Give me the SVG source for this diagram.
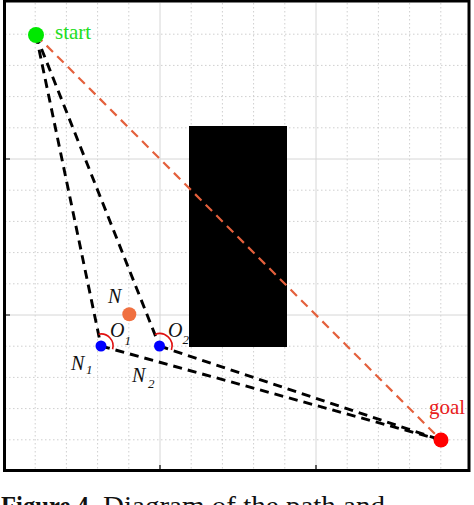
<svg xmlns="http://www.w3.org/2000/svg" width="474" height="505" viewBox="0 0 474 505">
<style>
.minor{stroke:#cfcfcf;stroke-width:1;stroke-dasharray:1.5,2.5;fill:none}
.major{stroke:#d6d6d6;stroke-width:1;fill:none}
.path{stroke:#000;stroke-width:2.9;stroke-dasharray:9,6;fill:none}
.direct{stroke:#e4603c;stroke-width:2.2;stroke-dasharray:9,6;fill:none}
.arc{stroke:#e01010;stroke-width:1.6;fill:none}
.lbl{font-family:"Liberation Serif",serif;font-style:italic;font-size:20px;fill:#111}
.sub{font-family:"Liberation Serif",serif;font-style:italic;font-size:13px;fill:#111}
.word{font-family:"Liberation Serif",serif;font-size:21px}
</style>
<rect width="474" height="505" fill="#fff"/>
<g id="grid">
<path class="minor" d="M35.2 3V470M66.4 3V470M97.6 3V470M128.8 3V470M191.2 3V470M222.4 3V470M253.6 3V470M284.8 3V470M347.2 3V470M378.4 3V470M409.6 3V470M440.8 3V470"/>
<path class="minor" d="M5 34.2H468M5 65.4H468M5 96.6H468M5 127.8H468M5 190.2H468M5 221.4H468M5 252.6H468M5 283.8H468M5 346.2H468M5 377.4H468M5 408.6H468M5 439.8H468"/>
<path class="major" d="M160 3V470M316 3V470M5 159H468M5 315H468"/>
</g>
<g id="frame">
<rect x="4.5" y="1" width="464.5" height="469.5" fill="none" stroke="#000" stroke-width="3"/>
<path d="M160 470V465M316 470V465M5 159H10M5 315H10" stroke="#000" stroke-width="1.2"/>
</g>
<g id="obstacle"><rect x="189" y="126" width="98" height="221" fill="#000"/></g>
<g id="connectors">
<line class="path" x1="36" y1="35" x2="101" y2="346"/>
<line class="path" x1="36" y1="35" x2="159.5" y2="346"/>
<line class="path" x1="101" y1="346" x2="441" y2="440"/>
<line class="path" x1="159.5" y1="346" x2="441" y2="440"/>
<line class="direct" x1="36" y1="35" x2="441" y2="440"/>
</g>
<g id="angles">
<path class="arc" d="M98.6 334.2A12 12 0 0 1 112.6 349.2"/>
<path class="arc" d="M154.9 334.4A12.5 12.5 0 0 1 171.4 350"/>
<text class="lbl" x="110" y="337">O</text><text class="sub" x="124.5" y="345">1</text>
<text class="lbl" x="168" y="337">O</text><text class="sub" x="182.5" y="344">2</text>
</g>
<g id="start">
<circle cx="36" cy="35" r="8" fill="#00e800"/>
<text class="word" x="55" y="39" fill="#22dd22">start</text>
</g>
<g id="goal">
<circle cx="441" cy="440" r="7.5" fill="#ff0000"/>
<text class="word" x="429" y="414" fill="#e82020">goal</text>
</g>
<g id="N">
<circle cx="129.3" cy="314.3" r="7" fill="#f07040"/>
<text class="lbl" x="108" y="303">N</text>
</g>
<g id="N1">
<circle cx="101" cy="346" r="5.5" fill="#0000ff"/>
<text class="lbl" x="71" y="370">N</text><text class="sub" x="86" y="374">1</text>
</g>
<g id="N2">
<circle cx="159.5" cy="346" r="5.5" fill="#0000ff"/>
<text class="lbl" x="132" y="382">N</text><text class="sub" x="148" y="388">2</text>
</g>
<text x="1" y="515" font-family="&quot;Liberation Serif&quot;,serif" font-size="28" fill="#111"><tspan font-weight="bold" textLength="94" lengthAdjust="spacingAndGlyphs">Figure 4.</tspan><tspan x="103" textLength="282" lengthAdjust="spacingAndGlyphs">Diagram of the path and</tspan></text>
</svg>
